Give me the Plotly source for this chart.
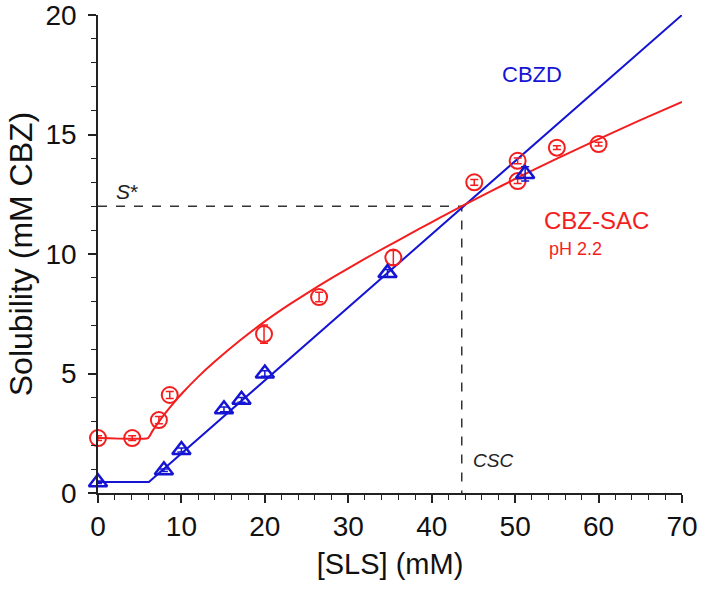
import plotly.graph_objects as go

# datos
sls_sac = [0, 4.1, 7.3, 8.6, 19.9, 26.5, 35.4, 45.1, 50.3, 50.3, 55.0, 60.0]
sol_sac = [2.3, 2.3, 3.05, 4.1, 6.65, 8.2, 9.85, 13.0, 13.9, 13.05, 14.45, 14.6]
err_sac = [0.1, 0.1, 0.15, 0.15, 0.38, 0.2, 0.3, 0.12, 0.12, 0.1, 0.08, 0.08]

sls_cbzd = [0, 7.9, 10.0, 15.1, 17.2, 20.0, 34.7, 51.2]
sol_cbzd = [0.45, 0.95, 1.8, 3.5, 3.9, 5.0, 9.2, 13.35]
err_cbzd = [0.05, 0.05, 0.08, 0.1, 0.1, 0.12, 0.15, 0.3]

# curvas de ajuste
ajuste_sac_x = [0, 6.0, 6.5, 7, 7.5, 8, 9, 10, 12, 14, 17, 20, 23, 26.6, 30, 33, 36, 38.6, 41, 43.6,
                47, 50, 55, 60, 65, 70]
ajuste_sac_y = [2.3, 2.3, 2.58, 2.84, 3.08, 3.31, 3.74, 4.14, 4.86, 5.5, 6.38, 7.18, 7.9, 8.7, 9.4, 10.0,
                10.57, 11.07, 11.52, 12.0, 12.61, 13.14, 13.99, 14.81, 15.6, 16.36]
ajuste_cbzd_x = [0, 6.1, 70]
ajuste_cbzd_y = [0.46, 0.46, 20.0]

csc = 43.6
s_estrella = 12.0

rojo = "#f41e1e"
azul = "#1414d2"
negro = "#222222"
fuente = "Liberation Sans, Arial, sans-serif"

fig = go.Figure()

# lineas punteadas S* y CSC
fig.add_trace(go.Scatter(x=[0, csc, csc], y=[s_estrella, s_estrella, 0], mode="lines",
                         line=dict(color="#333333", width=1.5, dash="dash"), showlegend=False))

fig.add_trace(go.Scatter(x=ajuste_cbzd_x, y=ajuste_cbzd_y, mode="lines",
                         line=dict(color=azul, width=2), showlegend=False))
fig.add_trace(go.Scatter(x=ajuste_sac_x, y=ajuste_sac_y, mode="lines", line_shape="spline",
                         line=dict(color=rojo, width=2, smoothing=0.4), showlegend=False))

fig.add_trace(go.Scatter(x=sls_sac, y=sol_sac, mode="markers", cliponaxis=False,
                         marker=dict(symbol="circle-open", size=16, color=rojo, line=dict(width=2)),
                         error_y=dict(type="data", array=err_sac, color=rojo, thickness=1.5, width=4),
                         showlegend=False))
fig.add_trace(go.Scatter(x=sls_cbzd, y=sol_cbzd, mode="markers", cliponaxis=False,
                         marker=dict(symbol="triangle-up-open", size=16, color=azul, line=dict(width=2.5)),
                         error_y=dict(type="data", array=err_cbzd, color=azul, thickness=1.5, width=4),
                         showlegend=False))

textos = [
    dict(x=3.5, y=12.6, text="<i>S</i>*", font=dict(size=21, color=negro), xanchor="center"),
    dict(x=44.7, y=1.35, text="<i>CSC</i>", font=dict(size=19, color=negro), xanchor="left"),
    dict(x=52.0, y=17.5, text="CBZD", font=dict(size=22, color=azul), xanchor="center"),
    dict(x=53.2, y=11.4, text="CBZ-SAC", font=dict(size=24, color=rojo), xanchor="left"),
    dict(x=53.8, y=10.2, text="pH 2.2", font=dict(size=18, color=rojo), xanchor="left"),
]
for t in textos:
    fig.add_annotation(xref="x", yref="y", showarrow=False, yanchor="middle", **t)

eje = dict(showline=True, linecolor=negro, linewidth=1.5, showgrid=False, zeroline=False,
           ticks="outside", ticklen=8, tickwidth=1.5, tickcolor=negro, automargin=False,
           ticklabeloverflow="allow", tickfont=dict(size=28, color="#111111", family=fuente))

fig.update_xaxes(range=[0, 70], dtick=10,
                 title=dict(text="[SLS] (mM)", font=dict(size=29, family=fuente, color="#111111"), standoff=12),
                 minor=dict(dtick=2, ticks="outside", ticklen=5, tickwidth=1.2, tickcolor=negro), **eje)
fig.update_yaxes(range=[0, 20], dtick=5, ticklabelstandoff=6,
                 title=dict(text="Solubility (mM CBZ)", font=dict(size=32, family=fuente, color="#111111"), standoff=3),
                 minor=dict(dtick=1, ticks="outside", ticklen=5, tickwidth=1.2, tickcolor=negro), **eje)

fig.update_layout(width=704, height=590, margin=dict(l=98, r=22, t=15, b=97),
                  plot_bgcolor="white", paper_bgcolor="white", font=dict(family=fuente))

# quitar el margen del body para que la figura empiece en 0,0
fig.write_html("out.html", config={"displayModeBar": False},
               post_script="document.body.style.margin='0';document.body.style.overflow='hidden';")
